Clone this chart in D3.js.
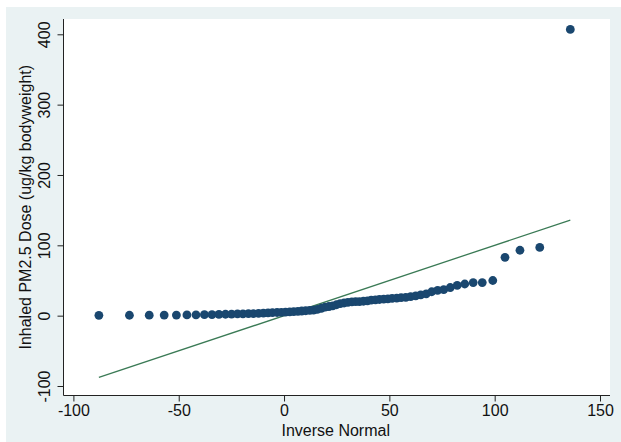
<!DOCTYPE html>
<html lang="en">
<head>
    <meta charset="UTF-8">
    <title>Normal quantile plot of inhaled PM2.5 dose</title>
    <script src="https://d3js.org/d3.v7.min.js"></script>
    <style>
        body { margin: 0; background: #ffffff; }
        svg { display: block; font-family: "Liberation Sans", Arial, sans-serif; }
    </style>
</head>
<body>
    <svg width="621" height="442"></svg>

    <script>
        // inverse normal quantiles (x) and sorted dose values (y)
        const inverseNormal = [
            -87.9, -73.4, -64.0, -56.9, -51.1, -46.1, -41.8, -37.8, -34.2, -30.9,
            -27.8, -24.9, -22.1, -19.5, -16.9, -14.5, -12.1, -9.8, -7.6, -5.5,
            -3.3, -1.3, 0.7, 2.7, 4.6, 6.6, 8.4, 10.3, 12.2, 14.0,
            15.8, 17.7, 19.5, 21.3, 23.1, 24.9, 26.7, 28.5, 30.3, 32.2,
            34.0, 35.8, 37.7, 39.6, 41.4, 43.4, 45.3, 47.3, 49.3, 51.3,
            53.5, 55.6, 57.8, 60.1, 62.5, 64.9, 67.5, 70.1, 72.9, 75.8,
            78.9, 82.2, 85.8, 89.8, 94.1, 99.1, 104.9, 112.0, 121.4, 135.9
        ];
        const doseValues = [
            0.5, 0.6, 0.7, 0.8, 0.9, 1.0, 1.2, 1.4, 1.6, 1.8,
            2.0, 2.2, 2.4, 2.6, 2.8, 3.0, 3.3, 3.6, 3.9, 4.2,
            4.5, 4.8, 5.1, 5.4, 5.8, 6.2, 6.6, 7.0, 7.5, 8.0,
            9.0, 10.5, 12.0, 13.0, 14.0, 15.5, 17.0, 18.0, 19.0, 19.5,
            20.0, 20.0, 20.5, 21.0, 22.0, 22.5, 23.0, 23.5, 24.0, 24.5,
            25.0, 25.5, 26.0, 27.0, 28.0, 29.5, 31.0, 34.0, 36.0, 37.0,
            40.0, 43.0, 45.0, 47.0, 47.0, 50.0, 83.0, 93.0, 97.0, 407.0
        ];
        const xTicks = [-100, -50, 0, 50, 100, 150];
        const yTicks = [-100, 0, 100, 200, 300, 400];

        const svg = d3.select("svg");
        const plot = { left: 63.5, right: 610, top: 19, bottom: 395.5 };

        // graph region (light blue) with thin white outer margin
        svg.append("rect").attr("x", 6).attr("y", 7).attr("width", 615).attr("height", 435)
            .attr("fill", "#eaf2f3");
        svg.append("rect").attr("x", plot.left).attr("y", plot.top)
            .attr("width", plot.right - plot.left).attr("height", plot.bottom - plot.top)
            .attr("fill", "#ffffff");

        const x = d3.scaleLinear().domain([-100, 150]).range([73.4, 600]);
        const y = d3.scaleLinear().domain([-100, 400]).range([386, 34.3]);

        // reference line y = x over the range of the quantiles
        const xExt = d3.extent(inverseNormal);
        svg.append("line")
            .attr("x1", x(xExt[0])).attr("y1", y(xExt[0]))
            .attr("x2", x(xExt[1])).attr("y2", y(xExt[1]))
            .attr("stroke", "#3a7a55").attr("stroke-width", 1.3);

        const points = inverseNormal.map((v, i) => ({ q: v, d: doseValues[i] }));
        svg.selectAll("circle.pt")
            .data(points)
            .enter()
            .append("circle")
            .attr("class", "pt")
            .attr("cx", d => x(d.q))
            .attr("cy", d => y(d.d))
            .attr("r", 4.4)
            .attr("fill", "#1a476f");

        const fmt = d => String(d);  // plain hyphen minus, as in the original

        // x axis
        const xAxis = svg.append("g").attr("transform", `translate(0,${plot.bottom})`)
            .call(d3.axisBottom(x).tickValues(xTicks).tickSize(6).tickPadding(3).tickFormat(fmt));
        xAxis.select(".domain").attr("d", `M${plot.left},0H${plot.right}`);

        // y axis
        const yAxis = svg.append("g").attr("transform", `translate(${plot.left},0)`)
            .call(d3.axisLeft(y).tickValues(yTicks).tickSize(6).tickFormat(fmt));
        yAxis.select(".domain").attr("d", `M0,${plot.top}V${plot.bottom}`);
        yAxis.selectAll(".tick text")
            .attr("transform", "rotate(-90)")
            .attr("x", 0).attr("y", -14)
            .attr("dy", 0)
            .attr("text-anchor", "middle");

        svg.selectAll(".domain, .tick line").attr("stroke", "#222").attr("stroke-width", 1);
        svg.selectAll(".tick text").attr("fill", "#111").attr("font-size", "16px")
            .attr("font-family", "'Liberation Sans', Arial, sans-serif");

        // axis titles
        svg.append("text").attr("x", (plot.left + plot.right) / 2 - 1).attr("y", 436)
            .attr("text-anchor", "middle").attr("font-size", "16px").attr("fill", "#111")
            .text("Inverse Normal");
        svg.append("text").attr("transform", `translate(31,${(plot.top + plot.bottom) / 2}) rotate(-90)`)
            .attr("text-anchor", "middle").attr("font-size", "16px").attr("fill", "#111")
            .text("Inhaled PM2.5 Dose (ug/kg bodyweight)");
    </script>
</body>
</html>
